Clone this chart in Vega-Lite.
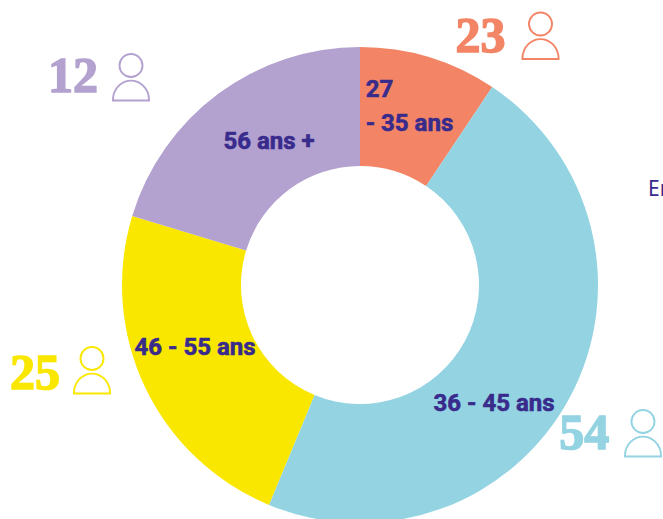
{"$schema":"https://vega.github.io/schema/vega-lite/v6.json","width":663,"height":519,"padding":0,"autosize":{"type":"none"},"background":"white","config":{"view":{"stroke":null}},"data":{"values":[{"ord":1,"age":"27 - 35 ans","share":12,"count":23,"label":"27\n- 35 ans"},{"ord":2,"age":"36 - 45 ans","share":60,"count":54,"label":"36 - 45 ans"},{"ord":3,"age":"46 - 55 ans","share":30,"count":25,"label":"46 - 55 ans"},{"ord":4,"age":"56 ans +","share":26,"count":12,"label":"56 ans +"}]},"encoding":{"theta":{"field":"share","type":"quantitative","stack":true},"order":{"field":"ord","type":"ordinal"}},"layer":[{"mark":{"type":"arc","x":360,"y":285,"innerRadius":119,"outerRadius":238},"encoding":{"color":{"field":"age","type":"nominal","legend":null,"scale":{"domain":["27 - 35 ans","36 - 45 ans","46 - 55 ans","56 ans +"],"range":["#F38566","#93D3E2","#FAE700","#B3A1CF"]}}}},{"mark":{"type":"text","x":360,"y":285,"radius":178,"dx":-46,"dy":-25,"font":"Roboto","fontWeight":700,"fontSize":24,"stroke":"#382B8C","strokeWidth":0.6,"lineBreak":"\n","lineHeight":34,"align":"left","color":"#382B8C"},"encoding":{"detail":{"field":"age"},"text":{"condition":{"test":"datum.ord===1","field":"label"},"value":""}}},{"mark":{"type":"text","x":360,"y":285,"radius":178,"dx":-23,"dy":35,"font":"Roboto","fontWeight":700,"fontSize":24,"stroke":"#382B8C","strokeWidth":0.6,"color":"#382B8C"},"encoding":{"detail":{"field":"age"},"text":{"condition":{"test":"datum.ord===2","field":"label"},"value":""}}},{"mark":{"type":"text","x":360,"y":285,"radius":178,"dx":-4,"dy":-13,"font":"Roboto","fontWeight":700,"fontSize":24,"stroke":"#382B8C","strokeWidth":0.6,"color":"#382B8C"},"encoding":{"detail":{"field":"age"},"text":{"condition":{"test":"datum.ord===3","field":"label"},"value":""}}},{"mark":{"type":"text","x":360,"y":285,"radius":178,"dx":15,"dy":0,"font":"Roboto","fontWeight":700,"fontSize":24,"stroke":"#382B8C","strokeWidth":0.6,"color":"#382B8C"},"encoding":{"detail":{"field":"age"},"text":{"condition":{"test":"datum.ord===4","field":"label"},"value":""}}},{"mark":{"type":"text","x":360,"y":285,"radius":260,"dx":45,"dy":1,"font":"Liberation Serif","fontWeight":700,"fontSize":50,"strokeWidth":1.5,"baseline":"middle"},"encoding":{"color":{"field":"age","type":"nominal","legend":null},"stroke":{"field":"age","type":"nominal","legend":null,"scale":{"domain":["27 - 35 ans","36 - 45 ans","46 - 55 ans","56 ans +"],"range":["#F38566","#93D3E2","#FAE700","#B3A1CF"]}},"text":{"condition":{"test":"datum.ord===1","field":"count"},"value":""}}},{"mark":{"type":"text","x":360,"y":285,"radius":260,"dx":-5,"dy":26,"font":"Liberation Serif","fontWeight":700,"fontSize":50,"strokeWidth":1.5,"baseline":"middle"},"encoding":{"color":{"field":"age","type":"nominal","legend":null},"stroke":{"field":"age","type":"nominal","legend":null},"text":{"condition":{"test":"datum.ord===2","field":"count"},"value":""}}},{"mark":{"type":"text","x":360,"y":285,"radius":260,"dx":-90,"dy":-22,"font":"Liberation Serif","fontWeight":700,"fontSize":50,"strokeWidth":1.5,"baseline":"middle"},"encoding":{"color":{"field":"age","type":"nominal","legend":null},"stroke":{"field":"age","type":"nominal","legend":null},"text":{"condition":{"test":"datum.ord===3","field":"count"},"value":""}}},{"mark":{"type":"text","x":360,"y":285,"radius":260,"dx":-132,"dy":1,"font":"Liberation Serif","fontWeight":700,"fontSize":50,"strokeWidth":1.5,"baseline":"middle"},"encoding":{"color":{"field":"age","type":"nominal","legend":null},"stroke":{"field":"age","type":"nominal","legend":null},"text":{"condition":{"test":"datum.ord===4","field":"count"},"value":""}}},{"transform":[{"filter":"datum.ord===1"}],"mark":{"type":"point","filled":false,"strokeWidth":1.9,"opacity":1,"size":2209,"shape":"M0.49 -0.53A0.49 0.49 0 1 1 -0.49 -0.53A0.49 0.49 0 1 1 0.49 -0.53ZM-0.77 0.96C-0.77 0.4 -0.35 0.11 0 0.11C0.35 0.11 0.77 0.4 0.77 0.96Z"},"encoding":{"theta":null,"order":null,"x":{"datum":540.5,"type":"quantitative","scale":{"domain":[0,663],"range":[0,663],"nice":false,"zero":false},"axis":null},"y":{"datum":36.5,"type":"quantitative","scale":{"domain":[0,519],"range":[0,519],"nice":false,"zero":false},"axis":null},"color":{"field":"age","type":"nominal","legend":null}}},{"transform":[{"filter":"datum.ord===2"}],"mark":{"type":"point","filled":false,"strokeWidth":1.9,"opacity":1,"size":2209,"shape":"M0.49 -0.53A0.49 0.49 0 1 1 -0.49 -0.53A0.49 0.49 0 1 1 0.49 -0.53ZM-0.77 0.96C-0.77 0.4 -0.35 0.11 0 0.11C0.35 0.11 0.77 0.4 0.77 0.96Z"},"encoding":{"theta":null,"order":null,"x":{"datum":643,"type":"quantitative","scale":{"domain":[0,663],"range":[0,663],"nice":false,"zero":false},"axis":null},"y":{"datum":434,"type":"quantitative","scale":{"domain":[0,519],"range":[0,519],"nice":false,"zero":false},"axis":null},"color":{"field":"age","type":"nominal","legend":null}}},{"transform":[{"filter":"datum.ord===3"}],"mark":{"type":"point","filled":false,"strokeWidth":1.9,"opacity":1,"size":2209,"shape":"M0.49 -0.53A0.49 0.49 0 1 1 -0.49 -0.53A0.49 0.49 0 1 1 0.49 -0.53ZM-0.77 0.96C-0.77 0.4 -0.35 0.11 0 0.11C0.35 0.11 0.77 0.4 0.77 0.96Z"},"encoding":{"theta":null,"order":null,"x":{"datum":92,"type":"quantitative","scale":{"domain":[0,663],"range":[0,663],"nice":false,"zero":false},"axis":null},"y":{"datum":371,"type":"quantitative","scale":{"domain":[0,519],"range":[0,519],"nice":false,"zero":false},"axis":null},"color":{"field":"age","type":"nominal","legend":null}}},{"transform":[{"filter":"datum.ord===4"}],"mark":{"type":"point","filled":false,"strokeWidth":1.9,"opacity":1,"size":2209,"shape":"M0.49 -0.53A0.49 0.49 0 1 1 -0.49 -0.53A0.49 0.49 0 1 1 0.49 -0.53ZM-0.77 0.96C-0.77 0.4 -0.35 0.11 0 0.11C0.35 0.11 0.77 0.4 0.77 0.96Z"},"encoding":{"theta":null,"order":null,"x":{"datum":131,"type":"quantitative","scale":{"domain":[0,663],"range":[0,663],"nice":false,"zero":false},"axis":null},"y":{"datum":78,"type":"quantitative","scale":{"domain":[0,519],"range":[0,519],"nice":false,"zero":false},"axis":null},"color":{"field":"age","type":"nominal","legend":null}}},{"transform":[{"filter":"datum.ord===1"}],"mark":{"type":"text","font":"Noto Sans","fontSize":21,"color":"#382B8C","align":"left","baseline":"middle"},"encoding":{"theta":null,"order":null,"text":{"value":"En"},"x":{"datum":648,"type":"quantitative","scale":{"domain":[0,663],"range":[0,663],"nice":false,"zero":false},"axis":null},"y":{"datum":190,"type":"quantitative","scale":{"domain":[0,519],"range":[0,519],"nice":false,"zero":false},"axis":null}}}]}
